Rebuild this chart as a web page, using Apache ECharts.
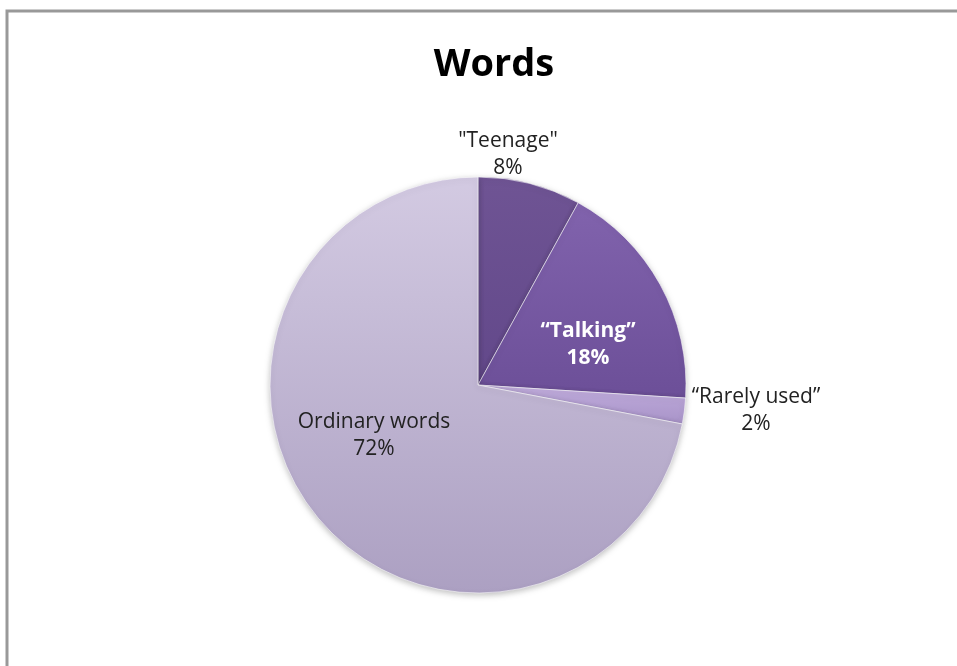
<!DOCTYPE html>
<html><head><meta charset="utf-8">
<script src="https://cdn.jsdelivr.net/npm/echarts@6/dist/echarts.min.js"></script>
<style>html,body{margin:0;padding:0;background:#fff}#c{width:957px;height:666px}</style>
</head><body><div id="c"></div>
<script>
var categories = ['"Teenage"', '\u201cTalking\u201d', '\u201cRarely used\u201d', 'Ordinary words'];
var values = [8, 18, 2, 72];
var percentLabels = ['8%', '18%', '2%', '72%'];

var G = echarts.graphic;
function lg(a, b){ return new G.LinearGradient(0,0,0,1,[{offset:0,color:a},{offset:1,color:b}]); }
var fills = [lg('#6f5494','#62488a'), lg('#8163ad','#6c4f98'), lg('#c0acdc','#a893c8'), lg('#d3cae2','#aca0c2')];
var labelColors = ['#222','#fff','#222','#222'];
var labelWeights = ['normal','bold','normal','normal'];
var labelPos = [[508,155],[588,345],[756,411],[374,436]];

var chart = echarts.init(document.getElementById('c'));
chart.setOption({
  animation:false,
  title:{text:'Words', left:489, top:41, textAlign:'center',
    textStyle:{fontFamily:'Open Sans', fontWeight:'bold', fontSize:38, color:'#000'}},
  graphic:[{type:'rect', shape:{x:7,y:11,width:1000,height:700}, style:{fill:'none', stroke:'#999', lineWidth:3}, silent:true}],
  series:[{
    type:'pie', center:[478,385], radius:208, startAngle:90, clockwise:true,
    itemStyle:{borderColor:'rgba(255,255,255,0.55)', borderWidth:1, shadowBlur:6, shadowColor:'rgba(0,0,0,0.25)', shadowOffsetY:2},
    label:{show:true, position:'inside', fontFamily:'Open Sans', fontSize:21, lineHeight:27, formatter:function(p){return p.name+'\n'+percentLabels[p.dataIndex];}},
    labelLine:{show:false},
    labelLayout:function(p){ var q=labelPos[p.dataIndex]; return {x:q[0], y:q[1], align:'center', verticalAlign:'middle'}; },
    data: categories.map(function(c,i){ return {name:c, value:values[i], itemStyle:{color:fills[i]}, label:{color:labelColors[i], fontWeight:labelWeights[i]}}; })
  }]
});
</script></body></html>
